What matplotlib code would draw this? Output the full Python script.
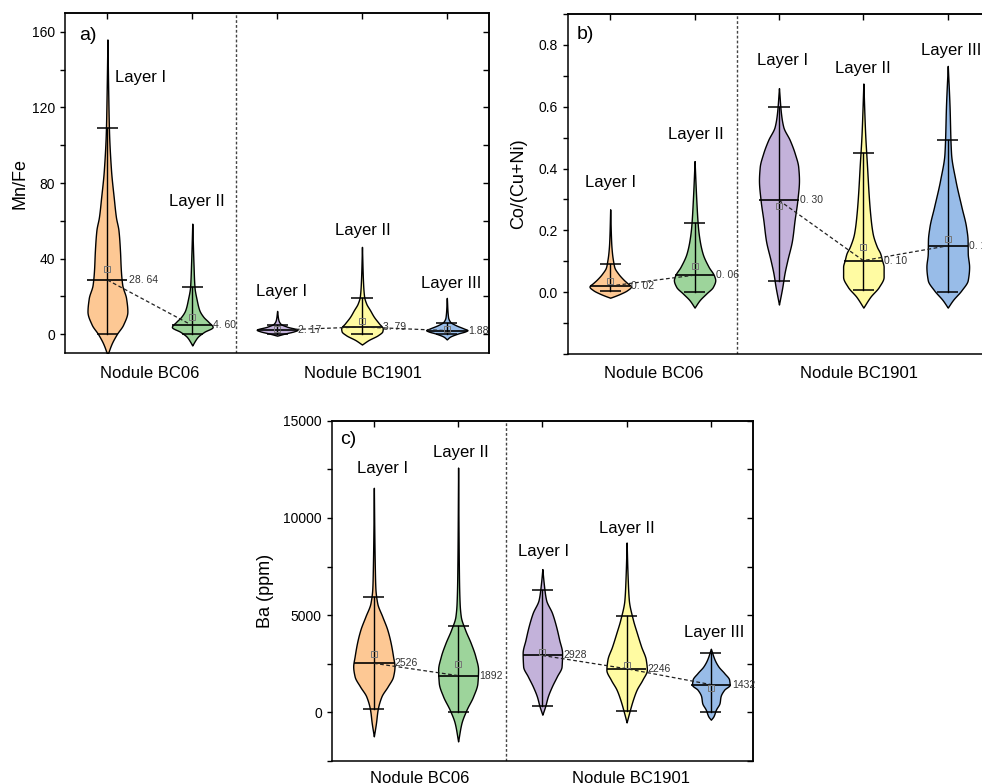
import numpy as np
import matplotlib
matplotlib.use("Agg")
import matplotlib.pyplot as plt
from matplotlib.ticker import MultipleLocator, FixedLocator, FormatStrFormatter, NullFormatter

plt.rcParams['font.family'] = ['Liberation Sans', 'DejaVu Sans']

# ---------------- data ----------------
positions = [1, 2, 3, 4, 5]
layer_names = ["Layer I", "Layer II", "Layer I", "Layer II", "Layer III"]
nodule_names = ["Nodule BC06", "Nodule BC1901"]
groups = [[0, 1], [2, 3, 4]]
fill_colors = ["#FDC894", "#9DD49B", "#C3B2DA", "#FFFBA2", "#98BCE8"]

# panel a : Mn/Fe
a_median = [28.64, 4.60, 2.17, 3.79, 1.88]
a_median_text = ["28. 64", "4. 60", "2. 17", "3. 79", "1.88"]
a_mean = [34.4, 9.2, 2.5, 6.9, 2.8]
a_whisk_hi = [109.3, 24.7, 4.8, 19.2, 6.0]
a_whisk_lo = [0.0, 0.0, 0.2, 0.0, 0.3]
a_prof_v = [
    [-11, -5, 0, 5, 12, 19, 26, 34, 44, 55, 62, 72, 87, 108, 126, 156],
    [-6, -4, -1.4, 1.2, 3.8, 6.5, 9.2, 12.7, 18, 25, 37.5, 58.5],
    [-0.8, 0.35, 1.5, 2.3, 3.9, 5.5, 7.5, 12.3],
    [-5.5, -3.2, -0.5, 1.5, 3, 5.7, 9.2, 12.7, 16.2, 20, 28, 46.2],
    [-2.8, -1.4, 0.3, 1.5, 2.1, 3, 4.8, 6.5, 9, 19.2],
]
a_prof_w = [
    [0, 0.05, 0.11, 0.185, 0.235, 0.22, 0.175, 0.158, 0.148, 0.13, 0.10, 0.075, 0.042, 0.018, 0.01, 0],
    [0, 0.025, 0.065, 0.14, 0.24, 0.19, 0.13, 0.083, 0.053, 0.026, 0.014, 0],
    [0, 0.095, 0.2, 0.24, 0.12, 0.04, 0.015, 0],
    [0, 0.075, 0.19, 0.24, 0.245, 0.2, 0.14, 0.095, 0.05, 0.025, 0.012, 0],
    [0, 0.036, 0.13, 0.22, 0.243, 0.2, 0.103, 0.04, 0.015, 0],
]

# panel b : Co/(Cu+Ni)
b_median = [0.02, 0.055, 0.297, 0.102, 0.15]
b_median_text = ["0. 02", "0. 06", "0. 30", "0. 10", "0. 15"]
b_mean = [0.037, 0.085, 0.28, 0.147, 0.171]
b_whisk_hi = [0.092, 0.225, 0.60, 0.449, 0.492]
b_whisk_lo = [0.005, 0.0, 0.037, 0.0065, 0.001]
b_prof_v = [
    [-0.018, -0.012, -0.004, 0.006, 0.018, 0.03, 0.04, 0.06, 0.08, 0.10, 0.125, 0.16, 0.268],
    [-0.05, -0.026, -0.004, 0.017, 0.039, 0.054, 0.082, 0.125, 0.168, 0.211, 0.3, 0.424],
    [-0.04, 0.017, 0.06, 0.104, 0.168, 0.233, 0.298, 0.362, 0.405, 0.449, 0.492, 0.535, 0.578, 0.66],
    [-0.05, -0.015, 0.017, 0.05, 0.082, 0.104, 0.125, 0.147, 0.19, 0.255, 0.319, 0.405, 0.514, 0.675],
    [-0.05, -0.026, 0.006, 0.039, 0.082, 0.125, 0.168, 0.211, 0.276, 0.362, 0.449, 0.61, 0.732],
]
b_prof_w = [
    [0, 0.06, 0.13, 0.2, 0.245, 0.2, 0.16, 0.095, 0.05, 0.035, 0.022, 0.012, 0],
    [0, 0.06, 0.14, 0.217, 0.245, 0.23, 0.166, 0.095, 0.06, 0.04, 0.02, 0],
    [0, 0.04, 0.065, 0.1, 0.155, 0.185, 0.218, 0.237, 0.228, 0.187, 0.128, 0.051, 0.024, 0],
    [0, 0.083, 0.184, 0.24, 0.24, 0.22, 0.2, 0.16, 0.11, 0.08, 0.062, 0.044, 0.021, 0],
    [0, 0.06, 0.162, 0.237, 0.253, 0.237, 0.235, 0.217, 0.162, 0.091, 0.039, 0.02, 0],
]

# panel c : Ba (ppm)
c_median = [2526, 1892, 2928, 2246, 1432]
c_median_text = ["2526", "1892", "2928", "2246", "1432"]
c_mean = [3000, 2486, 3104, 2451, 1254]
c_whisk_hi = [5910, 4456, 6306, 4954, 3053]
c_whisk_lo = [175, 0, 308, 51, 20]
c_prof_v = [
    [-1230, -550, 140, 820, 1340, 1850, 2364, 2878, 3566, 4250, 4934, 5622, 6400, 7333, 9000, 11550],
    [-1490, -545, 139, 822, 1511, 2194, 2878, 3566, 4250, 4934, 5622, 7000, 12590],
    [-118, 308, 822, 1336, 1850, 2364, 3053, 3736, 4420, 5108, 5792, 6650, 7370],
    [-514, 139, 653, 1166, 1680, 2194, 2708, 3392, 4080, 4764, 5792, 6990, 8737],
    [-375, -206, 139, 483, 822, 1166, 1423, 1680, 2025, 2364, 2708, 3273],
]
c_prof_w = [
    [0, 0.025, 0.045, 0.09, 0.165, 0.228, 0.245, 0.228, 0.2, 0.16, 0.1, 0.04, 0.018, 0.012, 0.006, 0],
    [0, 0.04, 0.1, 0.178, 0.229, 0.237, 0.205, 0.15, 0.083, 0.032, 0.018, 0.01, 0],
    [0, 0.033, 0.065, 0.113, 0.172, 0.228, 0.234, 0.2, 0.163, 0.115, 0.044, 0.016, 0],
    [0, 0.04, 0.075, 0.119, 0.187, 0.24, 0.228, 0.172, 0.122, 0.075, 0.026, 0.012, 0],
    [0, 0.03, 0.06, 0.103, 0.115, 0.158, 0.223, 0.217, 0.158, 0.089, 0.045, 0],
]


# ---------------- helpers ----------------
def pchip(x, y, xn):
    x = np.asarray(x, float)
    y = np.asarray(y, float)
    h = np.diff(x)
    d = np.diff(y) / h
    m = np.zeros_like(y)
    for k in range(1, len(x) - 1):
        if d[k - 1] * d[k] > 0:
            w1 = 2 * h[k] + h[k - 1]
            w2 = h[k] + 2 * h[k - 1]
            m[k] = (w1 + w2) / (w1 / d[k - 1] + w2 / d[k])
    m[0] = d[0]
    m[-1] = d[-1]
    idx = np.clip(np.searchsorted(x, xn) - 1, 0, len(h) - 1)
    t = (xn - x[idx]) / h[idx]
    h00 = 2 * t**3 - 3 * t**2 + 1
    h10 = t**3 - 2 * t**2 + t
    h01 = -2 * t**3 + 3 * t**2
    h11 = t**3 - t**2
    return h00 * y[idx] + h10 * h[idx] * m[idx] + h01 * y[idx + 1] + h11 * h[idx] * m[idx + 1]


MED_HW = 0.235
CAP_HW = 0.125


def draw_panel(ax, prof_v, prof_w, med, med_txt, mean, whi, wlo):
    for i, p in enumerate(positions):
        vv = np.linspace(prof_v[i][0], prof_v[i][-1], 500)
        ww = np.clip(pchip(prof_v[i], prof_w[i], vv), 0, None)
        ax.fill_betweenx(vv, p - ww, p + ww, facecolor=fill_colors[i],
                         edgecolor="black", linewidth=1.0, zorder=2)
        ax.plot([p, p], [wlo[i], whi[i]], color="black", lw=1.0, zorder=3)
        ax.hlines([wlo[i], whi[i]], p - CAP_HW, p + CAP_HW, color="black", lw=1.1, zorder=3)
        ax.hlines(med[i], p - MED_HW, p + MED_HW, color="black", lw=1.2, zorder=3)
        ax.plot(p, mean[i], "s", mfc="none", mec="#777777", ms=4, mew=0.7, zorder=4)
        ax.text(p + 0.25, med[i], med_txt[i], fontsize=7.5, color="#333333",
                ha="left", va="center", zorder=5)
    for g in groups:
        ax.plot([positions[j] for j in g], [med[j] for j in g], ls=(0, (3, 2)),
                color="#222222", lw=0.9, zorder=4)


def style(ax, ylim, majors, minor, fmt, ylabel, ylab_x, sep_x, nod_x, xpad, letter, letter_xy,
          lab_x, lab_y):
    ax.set_xlim(0.5, 5.5)
    ax.set_ylim(*ylim)
    ax.yaxis.set_major_locator(FixedLocator(majors))
    ax.yaxis.set_minor_locator(MultipleLocator(minor))
    ax.yaxis.set_major_formatter(FormatStrFormatter(fmt))
    ax.tick_params(axis="y", which="both", direction="out", length=3.6, width=1.0,
                   labelsize=10, pad=3.5, right=False)
    ax.set_xticks(nod_x)
    ax.set_xticklabels(nodule_names)
    ax.tick_params(axis="x", length=0, labelsize=12, pad=xpad, top=False)
    for s in ax.spines.values():
        s.set_linewidth(1.1)
    secy = ax.secondary_yaxis("right")
    secy.yaxis.set_major_locator(FixedLocator(majors))
    secy.yaxis.set_minor_locator(MultipleLocator(minor))
    secy.yaxis.set_major_formatter(NullFormatter())
    secy.tick_params(which="both", direction="in", length=4, width=1.0)
    secy.spines["right"].set_linewidth(1.1)
    secx = ax.secondary_xaxis("top")
    secx.set_xticks(positions)
    secx.xaxis.set_major_formatter(NullFormatter())
    secx.tick_params(direction="in", length=4, width=1.0)
    secx.spines["top"].set_linewidth(1.1)
    ax.axvline(sep_x, color="#444444", lw=1.0, ls=(0, (2, 1.5)), zorder=1)
    ax.set_ylabel(ylabel, fontsize=13)
    ax.yaxis.set_label_coords(ylab_x, 0.5)
    ax.text(letter_xy[0], letter_xy[1], letter, transform=ax.transAxes, fontsize=14,
            ha="left", va="center")
    for i in range(5):
        ax.text(lab_x[i], lab_y[i], layer_names[i], fontsize=12, ha="center", va="center")


fig = plt.figure(figsize=(9.82, 7.84), dpi=100)
axa = fig.add_axes([0.0662, 0.5497, 0.432, 0.4337])
axb = fig.add_axes([0.5784, 0.5485, 0.4297, 0.4337])
axc = fig.add_axes([0.3378, 0.0293, 0.4290, 0.4341])

draw_panel(axa, a_prof_v, a_prof_w, a_median, a_median_text, a_mean, a_whisk_hi, a_whisk_lo)
draw_panel(axb, b_prof_v, b_prof_w, b_median, b_median_text, b_mean, b_whisk_hi, b_whisk_lo)
draw_panel(axc, c_prof_v, c_prof_w, c_median, c_median_text, c_mean, c_whisk_hi, c_whisk_lo)

style(axa, (-10, 170), [0, 40, 80, 120, 160], 20, "%d", "Mn/Fe", -0.086, 2.51, [1.5, 4.01], 9.0,
      "a)", (0.033, 0.935), [1.39, 2.06, 3.05, 4.01, 5.05], [135.6, 70.4, 22.4, 55, 26.8])
style(axb, (-0.2, 0.9), [0, 0.2, 0.4, 0.6, 0.8], 0.1, "%.1f", "Co/(Cu+Ni)", -0.097, 2.5,
      [1.51, 3.95], 9.0, "b)", (0.021, 0.941), [1.0, 2.01, 3.04, 4.0, 5.04],
      [0.354, 0.51, 0.748, 0.724, 0.783])
style(axc, (-2500, 15000), [0, 5000, 10000, 15000], 2500, "%d", "Ba (ppm)", -0.136, 2.57,
      [1.54, 4.05], 7.5, "c)", (0.021, 0.946), [1.1, 2.03, 3.01, 4.0, 5.04],
      [12524, 13360, 8275, 9440, 4111])

fig.savefig("out.png", dpi=100)
